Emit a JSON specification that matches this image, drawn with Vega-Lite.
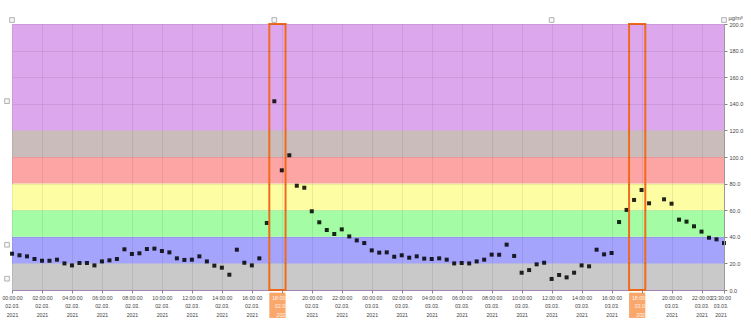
{
  "$schema": "https://vega.github.io/schema/vega-lite/v6.json",
  "width": 712,
  "height": 266,
  "autosize": {"type": "none"},
  "padding": {"left": 12, "top": 24, "right": 27, "bottom": 35},
  "background": "white",
  "config": {
    "view": {"stroke": "#b48cc4", "strokeWidth": 1},
    "font": "Liberation Sans",
    "axisY": {"labelOverlap": false, "labelBound": false, "labelFlush": false},
    "axisX": {"labelOverlap": false, "labelBound": false, "labelFlush": false}
  },
  "resolve": {"axis": {"y": "independent"}, "scale": {"y": "shared"}},
  "datasets": {
    "pm": [
      {"t": "2021-03-02T00:00", "v": 27.3}, {"t": "2021-03-02T00:30", "v": 26.1},
      {"t": "2021-03-02T01:00", "v": 25.3}, {"t": "2021-03-02T01:30", "v": 23.3},
      {"t": "2021-03-02T02:00", "v": 22.0}, {"t": "2021-03-02T02:30", "v": 22.0},
      {"t": "2021-03-02T03:00", "v": 22.8}, {"t": "2021-03-02T03:30", "v": 20.0},
      {"t": "2021-03-02T04:00", "v": 18.5}, {"t": "2021-03-02T04:30", "v": 20.3},
      {"t": "2021-03-02T05:00", "v": 20.3}, {"t": "2021-03-02T05:30", "v": 18.5},
      {"t": "2021-03-02T06:00", "v": 21.5}, {"t": "2021-03-02T06:30", "v": 22.3},
      {"t": "2021-03-02T07:00", "v": 23.3}, {"t": "2021-03-02T07:30", "v": 30.6},
      {"t": "2021-03-02T08:00", "v": 27.1}, {"t": "2021-03-02T08:30", "v": 27.6},
      {"t": "2021-03-02T09:00", "v": 30.8}, {"t": "2021-03-02T09:30", "v": 31.1},
      {"t": "2021-03-02T10:00", "v": 29.3}, {"t": "2021-03-02T10:30", "v": 28.3},
      {"t": "2021-03-02T11:00", "v": 23.8}, {"t": "2021-03-02T11:30", "v": 22.6},
      {"t": "2021-03-02T12:00", "v": 22.8}, {"t": "2021-03-02T12:30", "v": 25.3},
      {"t": "2021-03-02T13:00", "v": 21.5}, {"t": "2021-03-02T13:30", "v": 18.3},
      {"t": "2021-03-02T14:00", "v": 16.8}, {"t": "2021-03-02T14:30", "v": 11.5},
      {"t": "2021-03-02T15:00", "v": 30.3}, {"t": "2021-03-02T15:30", "v": 20.5},
      {"t": "2021-03-02T16:00", "v": 18.5}, {"t": "2021-03-02T16:30", "v": 23.8},
      {"t": "2021-03-02T17:00", "v": 50.4}, {"t": "2021-03-02T17:30", "v": 141.9},
      {"t": "2021-03-02T18:00", "v": 90.0}, {"t": "2021-03-02T18:30", "v": 101.3},
      {"t": "2021-03-02T19:00", "v": 78.4}, {"t": "2021-03-02T19:30", "v": 76.9},
      {"t": "2021-03-02T20:00", "v": 59.2}, {"t": "2021-03-02T20:30", "v": 50.9},
      {"t": "2021-03-02T21:00", "v": 45.1}, {"t": "2021-03-02T21:30", "v": 42.1},
      {"t": "2021-03-02T22:00", "v": 45.6}, {"t": "2021-03-02T22:30", "v": 40.3},
      {"t": "2021-03-02T23:00", "v": 37.3}, {"t": "2021-03-02T23:30", "v": 35.3},
      {"t": "2021-03-03T00:00", "v": 29.8}, {"t": "2021-03-03T00:30", "v": 28.1},
      {"t": "2021-03-03T01:00", "v": 28.3}, {"t": "2021-03-03T01:30", "v": 25.0},
      {"t": "2021-03-03T02:00", "v": 26.1}, {"t": "2021-03-03T02:30", "v": 24.3},
      {"t": "2021-03-03T03:00", "v": 25.3}, {"t": "2021-03-03T03:30", "v": 23.6},
      {"t": "2021-03-03T04:00", "v": 23.3}, {"t": "2021-03-03T04:30", "v": 23.8},
      {"t": "2021-03-03T05:00", "v": 22.8}, {"t": "2021-03-03T05:30", "v": 20.0},
      {"t": "2021-03-03T06:00", "v": 20.3}, {"t": "2021-03-03T06:30", "v": 20.0},
      {"t": "2021-03-03T07:00", "v": 21.5}, {"t": "2021-03-03T07:30", "v": 22.8},
      {"t": "2021-03-03T08:00", "v": 26.6}, {"t": "2021-03-03T08:30", "v": 26.5},
      {"t": "2021-03-03T09:00", "v": 34.1}, {"t": "2021-03-03T09:30", "v": 25.6},
      {"t": "2021-03-03T10:00", "v": 13.0}, {"t": "2021-03-03T10:30", "v": 15.0},
      {"t": "2021-03-03T11:00", "v": 19.3}, {"t": "2021-03-03T11:30", "v": 20.5},
      {"t": "2021-03-03T12:00", "v": 8.3}, {"t": "2021-03-03T12:30", "v": 11.3},
      {"t": "2021-03-03T13:00", "v": 9.5}, {"t": "2021-03-03T13:30", "v": 13.0},
      {"t": "2021-03-03T14:00", "v": 18.5}, {"t": "2021-03-03T14:30", "v": 17.8},
      {"t": "2021-03-03T15:00", "v": 30.3}, {"t": "2021-03-03T15:30", "v": 26.8},
      {"t": "2021-03-03T16:00", "v": 27.8}, {"t": "2021-03-03T16:30", "v": 51.1},
      {"t": "2021-03-03T17:00", "v": 60.2}, {"t": "2021-03-03T17:30", "v": 67.7},
      {"t": "2021-03-03T18:00", "v": 75.2}, {"t": "2021-03-03T18:30", "v": 65.2},
      {"t": "2021-03-03T19:30", "v": 68.2}, {"t": "2021-03-03T20:00", "v": 64.9},
      {"t": "2021-03-03T20:30", "v": 52.9}, {"t": "2021-03-03T21:00", "v": 51.4},
      {"t": "2021-03-03T21:30", "v": 47.9}, {"t": "2021-03-03T22:00", "v": 43.9},
      {"t": "2021-03-03T22:30", "v": 39.3}, {"t": "2021-03-03T23:00", "v": 38.1},
      {"t": "2021-03-03T23:30", "v": 35.3}
    ],
    "bands": [
      {"lo": 0, "hi": 20, "c": "#c9c9c9"},
      {"lo": 20, "hi": 40, "c": "#a4a4fc"},
      {"lo": 40, "hi": 60, "c": "#a4fca4"},
      {"lo": 60, "hi": 80, "c": "#fdfda4"},
      {"lo": 80, "hi": 100, "c": "#fda4a4"},
      {"lo": 100, "hi": 120, "c": "#cbbcbc"},
      {"lo": 120, "hi": 200, "c": "#dda7ed"}
    ],
    "boxes": [
      {"s": "2021-03-02T17:10", "e": "2021-03-02T18:15"},
      {"s": "2021-03-03T17:10", "e": "2021-03-03T18:15"}
    ],
    "icons": [
      {"t": "2021-03-02T00:00", "v": 203},
      {"t": "2021-03-02T17:30", "v": 203},
      {"t": "2021-03-03T12:00", "v": 203},
      {"t": "2021-03-03T23:30", "v": 203},
      {"t": "2021-03-01T23:40", "v": 142},
      {"t": "2021-03-01T23:40", "v": 34},
      {"t": "2021-03-01T23:40", "v": 8.5}
    ]
  },
  "encoding": {
    "x": {
      "field": "t",
      "type": "temporal",
      "title": null,
      "scale": {
        "domain": [
          {"year": 2021, "month": 3, "date": 2, "hours": 0, "minutes": 0},
          {"year": 2021, "month": 3, "date": 3, "hours": 23, "minutes": 30}
        ]
      },
      "axis": {
        "zindex": 1,
        "values": [
          {"year": 2021, "month": 3, "date": 2, "hours": 0},
          {"year": 2021, "month": 3, "date": 2, "hours": 2},
          {"year": 2021, "month": 3, "date": 2, "hours": 4},
          {"year": 2021, "month": 3, "date": 2, "hours": 6},
          {"year": 2021, "month": 3, "date": 2, "hours": 8},
          {"year": 2021, "month": 3, "date": 2, "hours": 10},
          {"year": 2021, "month": 3, "date": 2, "hours": 12},
          {"year": 2021, "month": 3, "date": 2, "hours": 14},
          {"year": 2021, "month": 3, "date": 2, "hours": 16},
          {"year": 2021, "month": 3, "date": 2, "hours": 18},
          {"year": 2021, "month": 3, "date": 2, "hours": 20},
          {"year": 2021, "month": 3, "date": 2, "hours": 22},
          {"year": 2021, "month": 3, "date": 3, "hours": 0},
          {"year": 2021, "month": 3, "date": 3, "hours": 2},
          {"year": 2021, "month": 3, "date": 3, "hours": 4},
          {"year": 2021, "month": 3, "date": 3, "hours": 6},
          {"year": 2021, "month": 3, "date": 3, "hours": 8},
          {"year": 2021, "month": 3, "date": 3, "hours": 10},
          {"year": 2021, "month": 3, "date": 3, "hours": 12},
          {"year": 2021, "month": 3, "date": 3, "hours": 14},
          {"year": 2021, "month": 3, "date": 3, "hours": 16},
          {"year": 2021, "month": 3, "date": 3, "hours": 18},
          {"year": 2021, "month": 3, "date": 3, "hours": 20},
          {"year": 2021, "month": 3, "date": 3, "hours": 22},
          {"year": 2021, "month": 3, "date": 3, "hours": 23, "minutes": 30}
        ],
        "labelExpr": "[timeFormat(datum.value, '%H:%M:%S'), timeFormat(datum.value, '%d.%m.'), timeFormat(datum.value, '%Y')]",
        "labelFontSize": 5.2,
        "labelLineHeight": 8.7,
        "labelColor": {"condition": {"test": "hours(datum.value) == 18", "value": "#fff4ea"}, "value": "#444444"},
        "labelOffset": {"condition": {"test": "hours(datum.value) == 23", "value": -3.5}, "value": 0},
        "labelPadding": 2,
        "tickSize": 3,
        "tickColor": "#888888",
        "domain": false,
        "grid": true,
        "gridColor": "#000000",
        "gridOpacity": 0.07
      }
    }
  },
  "layer": [
    {
      "data": {"name": "bands"},
      "mark": {"type": "rect"},
      "encoding": {
        "x": null,
        "y": {"field": "lo", "type": "quantitative", "axis": null, "scale": {"domain": [0, 200], "nice": false}},
        "y2": {"field": "hi"},
        "color": {"field": "c", "type": "nominal", "scale": null, "legend": null}
      }
    },
    {
      "data": {"name": "pm"},
      "mark": {"type": "point", "shape": "square", "filled": true, "size": 16, "color": "#000000", "opacity": 0.85},
      "encoding": {
        "y": {
          "field": "v",
          "type": "quantitative",
          "title": "µg/m³",
          "scale": {"domain": [0, 200], "nice": false},
          "axis": {
            "orient": "right",
            "zindex": 1,
            "values": [0, 20, 40, 60, 80, 100, 120, 140, 160, 180, 200],
            "format": ".1f",
            "labelFontSize": 5.5,
            "labelColor": "#444444",
            "labelPadding": 2,
            "labelOverlap": false,
            "tickSize": 3,
            "tickColor": "#888888",
            "domainColor": "#999999",
            "grid": true,
            "gridColor": "#000000",
            "gridOpacity": 0.07,
            "titleAngle": 0,
            "titleFontSize": 5.5,
            "titleFontWeight": "normal",
            "titleColor": "#444444",
            "titleX": 4,
            "titleY": -5,
            "titleAlign": "left",
            "titleBaseline": "alphabetic"
          }
        }
      }
    },
    {
      "data": {"name": "boxes"},
      "mark": {"type": "rect", "fillOpacity": 0, "stroke": "#f26b1d", "strokeWidth": 2},
      "encoding": {
        "x": {"field": "s", "type": "temporal"},
        "x2": {"field": "e"},
        "y": {"datum": 0, "axis": null},
        "y2": {"datum": 200}
      }
    },
    {
      "data": {"name": "boxes"},
      "mark": {"type": "rect", "fill": "#f9a76b", "clip": false},
      "encoding": {
        "x": {"field": "s", "type": "temporal"},
        "x2": {"field": "e"},
        "y": {"datum": -2, "axis": null},
        "y2": {"datum": -21}
      }
    },
    {
      "data": {"name": "icons"},
      "mark": {"type": "point", "shape": "square", "filled": true, "size": 22, "fill": "#f4f4f4", "stroke": "#7a7a7a", "strokeWidth": 0.8, "clip": false},
      "encoding": {
        "x": {"field": "t", "type": "temporal"},
        "y": {"field": "v", "type": "quantitative", "axis": null}
      }
    }
  ]
}
